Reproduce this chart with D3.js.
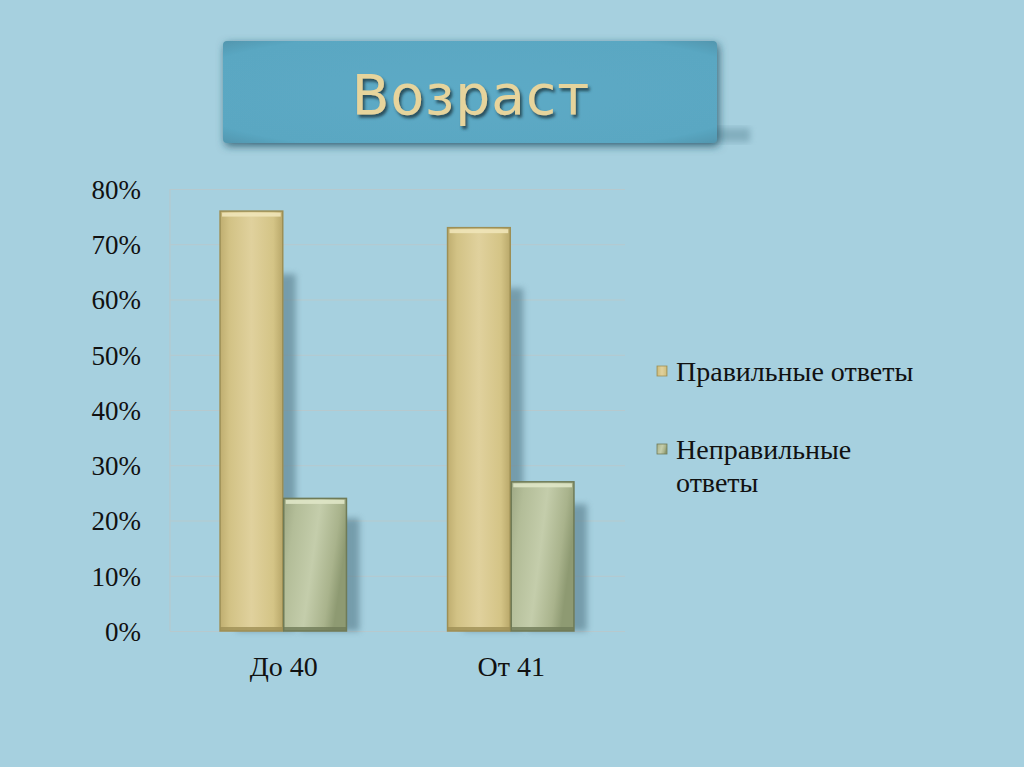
<!DOCTYPE html>
<html>
<head>
<meta charset="utf-8">
<script src="https://cdn.jsdelivr.net/npm/d3@7"></script>
<style>
	html, body { margin: 0; padding: 0; background: #a6d0df; }
	svg { display: block; }
</style>
</head>
<body>
<svg id="chart" width="1024" height="767"></svg>
<script>
const titleText = 'Возраст';
const categories = ['До 40', 'От 41'];
const seriesNames = ['Правильные ответы', 'Неправильные ответы'];
const correctValues = [0.76, 0.73];
const wrongValues = [0.24, 0.27];
const yTicks = [0, 0.1, 0.2, 0.3, 0.4, 0.5, 0.6, 0.7, 0.8];

const Chart = {
	width: 1024,
	height: 767,
	plot: { left: 170, right: 625, top: 189, bottom: 631 },

	draw: function() {
		const self = this;
		let svg = d3.select('#chart');

		self.drawDefs(svg);
		self.drawBackground(svg);
		self.drawTitle(svg);
		self.drawAxes(svg);
		self.drawBars(svg);
		self.drawLegend(svg);
	},

	drawDefs: function(svg) {
		let defs = svg.append('defs');

		let blur = defs.append('filter').attr('id', 'blur')
			.attr('x', '-20%').attr('y', '-20%').attr('width', '140%').attr('height', '140%');
		blur.append('feGaussianBlur').attr('stdDeviation', 3);

		let boxShadow = defs.append('filter').attr('id', 'box-shadow')
			.attr('x', '-10%').attr('y', '-20%').attr('width', '130%').attr('height', '150%');
		boxShadow.append('feGaussianBlur').attr('in', 'SourceAlpha').attr('stdDeviation', 4);
		boxShadow.append('feOffset').attr('dx', 2).attr('dy', 3).attr('result', 'off');
		boxShadow.append('feFlood').attr('flood-color', '#1d4f62').attr('flood-opacity', 0.8);
		boxShadow.append('feComposite').attr('in2', 'off').attr('operator', 'in');
		let merge = boxShadow.append('feMerge');
		merge.append('feMergeNode');
		merge.append('feMergeNode').attr('in', 'SourceGraphic');

		let textShadow = defs.append('filter').attr('id', 'text-shadow')
			.attr('x', '-10%').attr('y', '-20%').attr('width', '130%').attr('height', '150%');
		textShadow.append('feGaussianBlur').attr('in', 'SourceAlpha').attr('stdDeviation', 1.5);
		textShadow.append('feOffset').attr('dx', 2).attr('dy', 3).attr('result', 'off');
		textShadow.append('feFlood').attr('flood-color', '#23424d').attr('flood-opacity', 0.9);
		textShadow.append('feComposite').attr('in2', 'off').attr('operator', 'in');
		let merge2 = textShadow.append('feMerge');
		merge2.append('feMergeNode');
		merge2.append('feMergeNode').attr('in', 'SourceGraphic');

		let boxGlow = defs.append('radialGradient').attr('id', 'box-fill')
			.attr('cx', '50%').attr('cy', '50%').attr('r', '75%');
		boxGlow.append('stop').attr('offset', '0%').attr('stop-color', '#5caac6');
		boxGlow.append('stop').attr('offset', '80%').attr('stop-color', '#5aa7c2');
		boxGlow.append('stop').attr('offset', '100%').attr('stop-color', '#4e8fa6');

		let tan = defs.append('linearGradient').attr('id', 'tan-fill')
			.attr('x1', '0%').attr('x2', '100%').attr('y1', '0%').attr('y2', '0%');
		tan.append('stop').attr('offset', '0%').attr('stop-color', '#bfae70');
		tan.append('stop').attr('offset', '15%').attr('stop-color', '#d2c285');
		tan.append('stop').attr('offset', '50%').attr('stop-color', '#e0d19d');
		tan.append('stop').attr('offset', '85%').attr('stop-color', '#d4c486');
		tan.append('stop').attr('offset', '100%').attr('stop-color', '#b9a86a');

		let green = defs.append('linearGradient').attr('id', 'green-fill')
			.attr('x1', '0%').attr('x2', '100%').attr('y1', '0%').attr('y2', '30%');
		green.append('stop').attr('offset', '0%').attr('stop-color', '#9ea884');
		green.append('stop').attr('offset', '20%').attr('stop-color', '#b3bd98');
		green.append('stop').attr('offset', '55%').attr('stop-color', '#c4cdab');
		green.append('stop').attr('offset', '85%').attr('stop-color', '#a9b38c');
		green.append('stop').attr('offset', '100%').attr('stop-color', '#8e9a72');
	},

	drawBackground: function(svg) {
		svg.append('rect')
			.attr('width', this.width)
			.attr('height', this.height)
			.style('fill', '#a6d0df');
	},

	drawTitle: function(svg) {
		// trailing shadow streak to the lower right of the box
		svg.append('rect')
			.attr('x', 250).attr('y', 128).attr('width', 500).attr('height', 14)
			.style('fill', '#6c98a8').style('opacity', 0.6)
			.attr('filter', 'url(#blur)');

		svg.append('rect')
			.attr('x', 223).attr('y', 41).attr('width', 494).attr('height', 102)
			.attr('rx', 4).attr('ry', 4)
			.style('fill', 'url(#box-fill)')
			.attr('filter', 'url(#box-shadow)');

		svg.append('text')
			.attr('x', 471).attr('y', 114)
			.attr('text-anchor', 'middle')
			.style('font-family', '"DejaVu Sans", Verdana, sans-serif')
			.style('font-size', '55px')
			.style('letter-spacing', '1px')
			.style('fill', '#e6d49c')
			.attr('filter', 'url(#text-shadow)')
			.text(titleText);
	},

	drawAxes: function(svg) {
		const self = this;
		let p = self.plot;
		self.y = d3.scaleLinear().domain([0, 0.8]).range([p.bottom, p.top]);
		self.x = d3.scaleBand().domain(categories).range([p.left, p.right])
			.paddingInner(0.44).paddingOuter(0.22);

		let grid = svg.append('g')
			.attr('transform', 'translate(' + p.left + ',0)')
			.call(d3.axisLeft(self.y).tickValues(yTicks).tickSize(-(p.right - p.left)).tickFormat(''));
		grid.select('.domain').remove();
		grid.selectAll('line').style('stroke', '#b6c9ce').style('stroke-width', 1.2);

		svg.append('line')
			.attr('x1', p.left).attr('x2', p.left).attr('y1', p.top).attr('y2', p.bottom)
			.style('stroke', '#b6c9ce').style('stroke-width', 1.2);

		let yAxis = svg.append('g')
			.attr('transform', 'translate(' + (p.left - 26) + ',0)')
			.call(d3.axisLeft(self.y).tickValues(yTicks).tickSize(0).tickFormat(d3.format('.0%')));
		yAxis.select('.domain').remove();
		yAxis.selectAll('text')
			.attr('dy', '0.35em')
			.style('font-family', '"Liberation Serif", "Times New Roman", serif')
			.style('font-size', '27px')
			.style('fill', '#111');

		let xAxis = svg.append('g')
			.attr('transform', 'translate(0,' + p.bottom + ')')
			.call(d3.axisBottom(self.x).tickSize(0).tickPadding(25));
		xAxis.select('.domain').remove();
		xAxis.selectAll('text')
			.style('font-family', '"Liberation Serif", "Times New Roman", serif')
			.style('font-size', '28px')
			.style('fill', '#111');
	},

	drawBars: function(svg) {
		const self = this;
		let inner = d3.scaleBand().domain([0, 1]).range([0, self.x.bandwidth()]);
		let fills = ['url(#tan-fill)', 'url(#green-fill)'];
		let borders = ['#9d8f55', '#6f7b57'];
		let tops = ['#f0e4b8', '#dfe6c6'];
		let data = [];

		categories.forEach(function(c, i) {
			data.push({ cat: c, s: 0, v: correctValues[i] });
			data.push({ cat: c, s: 1, v: wrongValues[i] });
		});

		// soft perspective shadows behind each bar
		let base = self.y(0);
		svg.append('g').selectAll('rect')
			.data(data).enter().append('rect')
			.attr('x', d => self.x(d.cat) + inner(d.s) + 16)
			.attr('y', d => base - (base - self.y(d.v)) * 0.85)
			.attr('width', inner.bandwidth() - 4)
			.attr('height', d => (base - self.y(d.v)) * 0.85)
			.style('fill', '#557a89')
			.style('opacity', 0.6)
			.attr('filter', 'url(#blur)');

		let bars = svg.append('g').selectAll('g')
			.data(data).enter().append('g');

		bars.append('rect')
			.attr('x', d => self.x(d.cat) + inner(d.s))
			.attr('y', d => self.y(d.v))
			.attr('width', inner.bandwidth() - 1)
			.attr('height', d => base - self.y(d.v))
			.style('fill', d => fills[d.s])
			.style('stroke', d => borders[d.s])
			.style('stroke-width', 1.5);

		bars.append('rect')
			.attr('x', d => self.x(d.cat) + inner(d.s) + 2)
			.attr('y', d => self.y(d.v) + 1.5)
			.attr('width', inner.bandwidth() - 5)
			.attr('height', 4)
			.style('fill', d => tops[d.s])
			.style('opacity', 0.9);

		bars.append('rect')
			.attr('x', d => self.x(d.cat) + inner(d.s))
			.attr('y', base - 4)
			.attr('width', inner.bandwidth() - 1)
			.attr('height', 4)
			.style('fill', d => borders[d.s])
			.style('opacity', 0.8);
	},

	drawLegend: function(svg) {
		let fills = ['url(#tan-fill)', 'url(#green-fill)'];
		let borders = ['#9d8f55', '#6f7b57'];
		let lines = [['Правильные ответы'], ['Неправильные', 'ответы']];
		let ys = [371, 449];

		let items = svg.append('g').selectAll('g')
			.data(seriesNames).enter().append('g')
			.attr('transform', (d, i) => 'translate(657,' + ys[i] + ')');

		items.append('rect')
			.attr('x', 0).attr('y', -5).attr('width', 10).attr('height', 10)
			.style('fill', (d, i) => fills[i])
			.style('stroke', (d, i) => borders[i])
			.style('stroke-width', 0.8);

		items.append('text')
			.attr('x', 19)
			.attr('y', 10)
			.style('font-family', '"Liberation Serif", "Times New Roman", serif')
			.style('font-size', '28px')
			.style('fill', '#111')
			.selectAll('tspan')
			.data((d, i) => lines[i]).enter().append('tspan')
			.attr('x', 19)
			.attr('dy', (d, j) => j === 0 ? 0 : 33)
			.text(d => d);
	}
};

Chart.draw();
</script>
</body>
</html>
